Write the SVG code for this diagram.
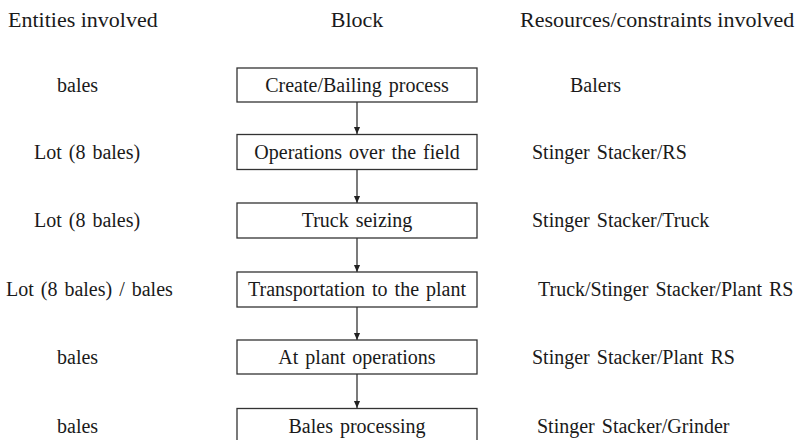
<svg xmlns="http://www.w3.org/2000/svg" width="810" height="440" viewBox="0 0 810 440">
<style>
text{font-family:"Liberation Serif","Times New Roman",serif;fill:#1a1a1a}
.h{font-size:22px}
.t{font-size:20px;word-spacing:2px}
.c{text-anchor:middle}
.box{fill:#fff;stroke:#333;stroke-width:1.3}
.ln{stroke:#222;stroke-width:1.2;fill:none}
</style>
<defs>
<marker id="ah" markerWidth="7" markerHeight="8" refX="8" refY="4" orient="auto" markerUnits="userSpaceOnUse" viewBox="0 0 8 8">
<path d="M0,0.5 L8,4 L0,7.5 Z" fill="#222"/>
</marker>
</defs>
<rect width="810" height="440" fill="#fff"/>
<g id="headers">
<text class="h" x="8" y="27">Entities involved</text>
<text class="h c" x="357" y="27">Block</text>
<text class="h" x="520" y="27">Resources/constraints involved</text>
</g>
<g id="connectors">
<line class="ln" x1="357" y1="102" x2="357" y2="134" marker-end="url(#ah)"/>
<line class="ln" x1="357" y1="169" x2="357" y2="203" marker-end="url(#ah)"/>
<line class="ln" x1="357" y1="238" x2="357" y2="272" marker-end="url(#ah)"/>
<line class="ln" x1="357" y1="307" x2="357" y2="340" marker-end="url(#ah)"/>
<line class="ln" x1="357" y1="374" x2="357" y2="408" marker-end="url(#ah)"/>
</g>
<g id="n1">
<rect class="box" x="237" y="68" width="240" height="34"/>
<text class="t c" x="357" y="92">Create/Bailing process</text>
</g>
<g id="n2">
<rect class="box" x="237" y="134.5" width="240" height="35"/>
<text class="t c" x="357" y="159">Operations over the field</text>
</g>
<g id="n3">
<rect class="box" x="237" y="203" width="240" height="35"/>
<text class="t c" x="357" y="227">Truck seizing</text>
</g>
<g id="n4">
<rect class="box" x="237" y="272" width="240" height="35"/>
<text class="t c" x="357" y="296">Transportation  to the plant</text>
</g>
<g id="n5">
<rect class="box" x="237" y="340" width="240" height="34"/>
<text class="t c" x="357" y="364">At plant operations</text>
</g>
<g id="n6">
<rect class="box" x="237" y="408.5" width="240" height="35"/>
<text class="t c" x="357" y="433">Bales processing</text>
</g>
<g id="entities">
<text class="t" x="57" y="92">bales</text>
<text class="t" x="34" y="159">Lot (8 bales)</text>
<text class="t" x="34" y="227">Lot (8 bales)</text>
<text class="t" x="6" y="296">Lot (8 bales) / bales</text>
<text class="t" x="57" y="364">bales</text>
<text class="t" x="57" y="433">bales</text>
</g>
<g id="resources">
<text class="t" x="570" y="92">Balers</text>
<text class="t" x="532" y="159">Stinger Stacker/RS</text>
<text class="t" x="532" y="227">Stinger Stacker/Truck</text>
<text class="t" x="538" y="296">Truck/Stinger Stacker/Plant RS</text>
<text class="t" x="532" y="364">Stinger Stacker/Plant RS</text>
<text class="t" x="537" y="433">Stinger Stacker/Grinder</text>
</g>
</svg>
